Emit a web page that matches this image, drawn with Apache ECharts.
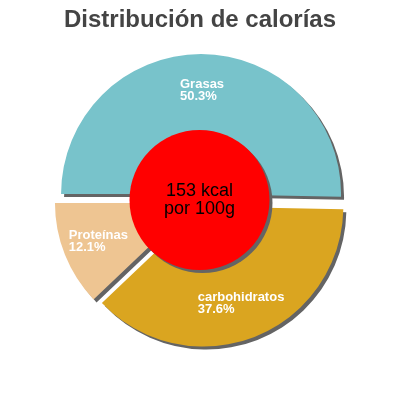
<!DOCTYPE html>
<html>
<head>
<meta charset="utf-8">
<script src="https://cdn.jsdelivr.net/npm/echarts@6/dist/echarts.min.js"></script>
<style>
  html, body { margin: 0; padding: 0; background: #fff; }
  #chart { width: 400px; height: 400px; }
</style>
</head>
<body>
<div id="chart"></div>
<script>
// datos
var categorias = ['Grasas', 'carbohidratos', 'Proteínas'];
var porcentajes = [50.3, 37.6, 12.1];
var kcal = 153;

var colores = ['#78C3CB', '#DAA520', '#EEC592'];

var chart = echarts.init(document.getElementById('chart'));

var datos = [];
for (var i = 0; i < categorias.length; i++) {
    datos.push({
        name: categorias[i],
        value: porcentajes[i],
        selected: true,
        itemStyle: { color: colores[i] }
    });
}

var sombra = {
    shadowColor: '#646464',
    shadowBlur: 0,
    shadowOffsetX: 3,
    shadowOffsetY: 3
};

var option = {
    backgroundColor: '#fff',
    animation: false,
    title: {
        text: 'Distribución de calorías',
        left: 'center',
        top: 3,
        textStyle: {
            color: '#444',
            fontSize: 24,
            fontWeight: 'bold',
            fontFamily: 'Liberation Sans, Arial, sans-serif'
        }
    },
    series: [
        {
            type: 'pie',
            center: [201, 200.5],
            radius: [62, 140],
            startAngle: 180,
            clockwise: true,
            selectedMode: 'multiple',
            selectedOffset: 6.5,
            silent: true,
            itemStyle: sombra,
            select: { itemStyle: sombra },
            emphasis: { disabled: true },
            label: {
                show: true,
                position: 'inside',
                color: '#fff',
                fontSize: 13,
                fontWeight: 'bold',
                fontFamily: 'Liberation Sans, Arial, sans-serif',
                lineHeight: 12,
                formatter: function (p) {
                    return '{t|' + p.name + '}\n{t|' + p.value.toFixed(1) + '%}';
                },
                rich: {
                    t: {
                        align: 'left',
                        color: '#fff',
                        fontSize: 13,
                        fontWeight: 'bold',
                        lineHeight: 12,
                        fontFamily: 'Liberation Sans, Arial, sans-serif'
                    }
                }
            },
            labelLine: { show: false },
            data: datos
        },
        {
            type: 'pie',
            center: [199.5, 200],
            radius: [0, 70],
            silent: true,
            itemStyle: {
                color: '#FF0000',
                shadowColor: '#646464',
                shadowBlur: 0,
                shadowOffsetX: 3,
                shadowOffsetY: 3
            },
            emphasis: { disabled: true },
            label: {
                show: true,
                position: 'center',
                color: '#000',
                fontSize: 18,
                lineHeight: 18,
                fontFamily: 'Liberation Sans, Arial, sans-serif',
                formatter: '{c} kcal\npor 100g'
            },
            labelLine: { show: false },
            data: [{ name: 'kcal', value: kcal }]
        }
    ]
};

chart.setOption(option);
</script>
</body>
</html>
